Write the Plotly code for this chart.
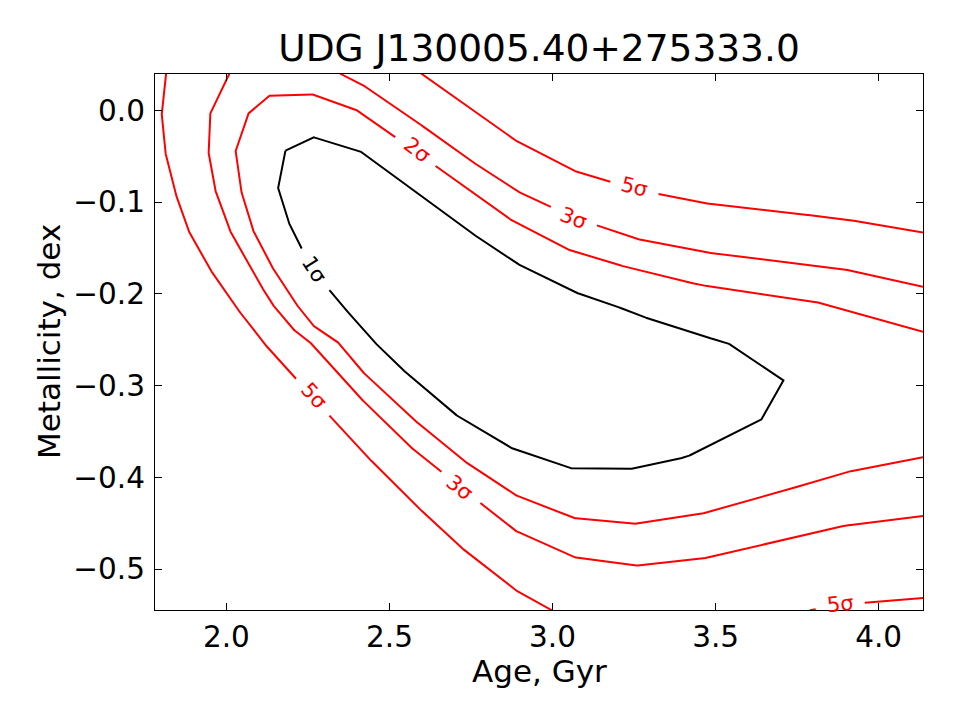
import math
import plotly.graph_objects as go

# ---------------- data ----------------
X_RANGE = [1.781, 4.136]
Y_RANGE = [-0.5447, 0.0397]

x_ticks = [2.0, 2.5, 3.0, 3.5, 4.0]
x_tick_labels = ["2.0", "2.5", "3.0", "3.5", "4.0"]
y_ticks = [0.0, -0.1, -0.2, -0.3, -0.4, -0.5]
y_tick_labels = ["0.0", "\u22120.1", "\u22120.2", "\u22120.3", "\u22120.4", "\u22120.5"]

title_text = "UDG J130005.40+275333.0"
x_label = "Age, Gyr"
y_label = "Metallicity, dex"

# 1 sigma contour (closed)
s1_age = [2.181, 2.268, 2.408, 2.553, 2.716, 2.884, 3.063, 3.175, 3.257, 3.449, 3.536,
          3.708, 3.643, 3.449, 3.408, 3.252, 3.063, 2.884, 2.716, 2.563, 2.481, 2.406,
          2.267, 2.196, 2.158, 2.181]
s1_met = [-0.0439, -0.0294, -0.0439, -0.0821, -0.1250, -0.1658, -0.1977, -0.2105, -0.2225,
          -0.2451, -0.2533, -0.2944, -0.3365, -0.3719, -0.3780, -0.3907, -0.3907, -0.3700,
          -0.3354, -0.2899, -0.2628, -0.2340, -0.1754, -0.1268, -0.0857, -0.0439]

# 2 sigma contour (open, both ends on the right edge)
s2_age = [4.136, 3.832, 3.454, 3.257, 3.063, 2.884, 2.716, 2.406, 2.268, 2.135, 2.069,
          2.028, 2.043, 2.079, 2.130, 2.201, 2.263, 2.339, 2.411, 2.557, 2.716, 2.884,
          3.063, 3.252, 3.454, 3.679, 3.894, 4.136]
s2_met = [-0.2413, -0.2105, -0.1904, -0.1740, -0.1541, -0.1221, -0.0796, -0.0007, 0.0174,
          0.0168, -0.0022, -0.0432, -0.0851, -0.1287, -0.1650, -0.2050, -0.2340, -0.2515,
          -0.2828, -0.3318, -0.3791, -0.4191, -0.4445, -0.4507, -0.4401, -0.4180, -0.3948,
          -0.3780]

# 3 sigma contour: upper piece and lower-left piece
s3a_age = [2.349, 2.411, 2.554, 2.716, 2.884, 3.064, 3.252, 3.454, 3.660, 3.884, 4.136]
s3a_met = [0.0400, 0.0294, -0.0047, -0.0469, -0.0868, -0.1165, -0.1396, -0.1541, -0.1628,
           -0.1723, -0.1923]
s3b_age = [2.009, 1.951, 1.944, 1.964, 2.007, 2.069, 2.135, 2.201, 2.253, 2.406, 2.554,
           2.884, 3.063, 3.252, 3.454, 3.648, 3.894, 4.136]
s3b_met = [0.0400, -0.0022, -0.0432, -0.0851, -0.1287, -0.1686, -0.2086, -0.2377, -0.2515,
           -0.3119, -0.3640, -0.4580, -0.4870, -0.4965, -0.4892, -0.4736, -0.4529, -0.4423]

# 5 sigma contour: left piece, upper piece, bottom-right piece
s5a_age = [1.815, 1.801, 1.811, 1.839, 1.880, 1.941, 2.017, 2.109, 2.406, 2.557, 2.716,
           2.884, 2.998]
s5a_met = [0.0400, -0.0010, -0.0432, -0.0851, -0.1287, -0.1686, -0.2086, -0.2515, -0.3682,
           -0.4227, -0.4755, -0.5227, -0.5450]
s5b_age = [2.598, 2.884, 3.058, 3.247, 3.454, 3.660, 3.894, 4.136]
s5b_met = [0.0400, -0.0323, -0.0650, -0.0854, -0.1007, -0.1091, -0.1184, -0.1330]
s5c_age = [3.789, 3.885, 4.136]
s5c_met = [-0.5450, -0.5390, -0.5317]

# contour labels: text, age, metallicity, rotation (deg)
label_text = ["1\u03c3", "2\u03c3", "3\u03c3", "3\u03c3", "5\u03c3", "5\u03c3", "5\u03c3"]
label_age = [2.271, 2.585, 3.063, 2.716, 2.268, 3.252, 3.882]
label_met = [-0.1735, -0.0429, -0.1178, -0.4118, -0.3119, -0.0832, -0.5385]
label_rot = [57, 37, 21, 39, 48, 14, -6]

# ---------------- layout geometry ----------------
W, H = 960, 720
ML, MR, MT, MB = 155, 37, 74, 110
PW, PH = W - ML - MR, H - MT - MB
SX = PW / (X_RANGE[1] - X_RANGE[0])
SY = PH / (Y_RANGE[1] - Y_RANGE[0])
GAP_R = 24.5
FONT = "DejaVu Sans"


def cut_gaps(xs, ys, labels):
    """Densify the polyline and blank out the parts under the inline labels."""
    out_x, out_y = [], []
    prev_keep = True
    for i in range(len(xs) - 1):
        x0, y0, x1, y1 = xs[i], ys[i], xs[i + 1], ys[i + 1]
        L = math.hypot((x1 - x0) * SX, (y1 - y0) * SY)
        n = max(1, int(math.ceil(L / 1.0)))
        start = 0 if i == 0 else 1
        for k in range(start, n + 1):
            t = k / n
            x = x0 + (x1 - x0) * t
            y = y0 + (y1 - y0) * t
            keep = all(math.hypot((x - lx) * SX, (y - ly) * SY) >= GAP_R for lx, ly in labels)
            if keep:
                out_x.append(x)
                out_y.append(y)
            elif prev_keep:
                out_x.append(None)
                out_y.append(None)
            prev_keep = keep
    return out_x, out_y


pieces = [
    ("1\u03c3", "black", s1_age, s1_met),
    ("2\u03c3", "red", s2_age, s2_met),
    ("3\u03c3", "red", s3a_age, s3a_met),
    ("3\u03c3", "red", s3b_age, s3b_met),
    ("5\u03c3", "red", s5a_age, s5a_met),
    ("5\u03c3", "red", s5b_age, s5b_met),
    ("5\u03c3", "red", s5c_age, s5c_met),
]

fig = go.Figure()
for name, color, xs, ys in pieces:
    labs = [(a, m) for t, a, m in zip(label_text, label_age, label_met) if t == name]
    px_, py_ = cut_gaps(xs, ys, labs)
    fig.add_trace(go.Scatter(x=px_, y=py_, mode="lines", line=dict(color=color, width=2),
                             hoverinfo="skip", showlegend=False, connectgaps=False))

annotations = []
for t, a, m, r in zip(label_text, label_age, label_met, label_rot):
    annotations.append(dict(x=a, y=m, xref="x", yref="y", text=t, showarrow=False,
                            textangle=r, font=dict(family=FONT, size=21,
                                                   color="black" if t == "1\u03c3" else "red")))

annotations.append(dict(x=0.5, y=-(671 - (MT + PH)) / PH, xref="paper", yref="paper",
                        text=x_label, showarrow=False, xanchor="center", yanchor="middle",
                        font=dict(family=FONT, size=31, color="black")))
annotations.append(dict(x=-(ML - 49) / PW, y=0.5, xref="paper", yref="paper",
                        text=y_label, showarrow=False, textangle=-90,
                        xanchor="center", yanchor="middle",
                        font=dict(family=FONT, size=31, color="black")))

axis_common = dict(showline=True, linecolor="black", linewidth=1.2, mirror="ticks",
                   ticks="inside", ticklen=7, tickwidth=1.2, tickcolor="black",
                   showgrid=False, zeroline=False,
                   tickfont=dict(family=FONT, size=29.5, color="black"))

fig.update_layout(
    width=W, height=H,
    margin=dict(l=ML, r=MR, t=MT, b=MB, pad=0),
    paper_bgcolor="white", plot_bgcolor="white",
    title=dict(text=title_text, x=(ML + PW / 2) / W, xanchor="center",
               y=1 - 48 / H, yanchor="middle", yref="container",
               font=dict(family=FONT, size=37.5, color="black")),
    xaxis=dict(range=X_RANGE, tickvals=x_ticks, ticktext=x_tick_labels,
               ticklabelstandoff=0, **axis_common),
    yaxis=dict(range=Y_RANGE, tickvals=y_ticks, ticktext=y_tick_labels,
               ticklabelstandoff=3, **axis_common),
    annotations=annotations,
)

fig.write_html("out.html")
